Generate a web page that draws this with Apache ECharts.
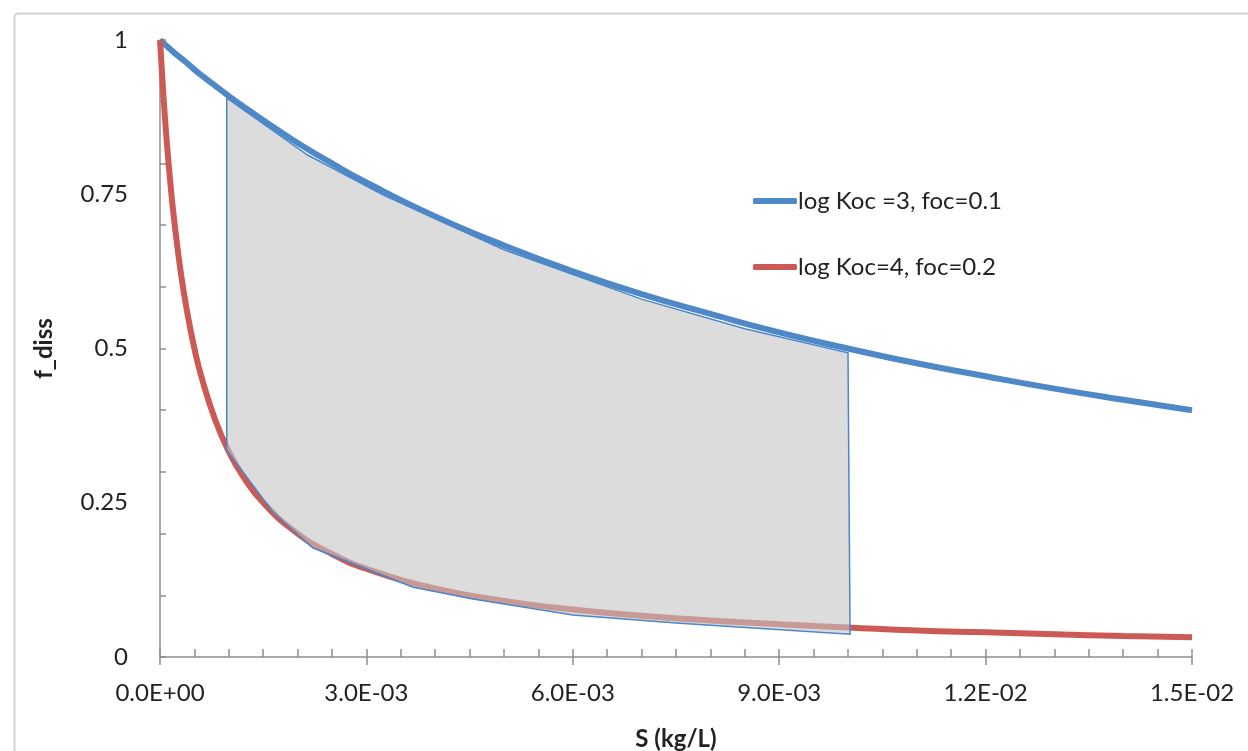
<!DOCTYPE html>
<html>
<head>
<meta charset="utf-8">
<script src="https://cdn.jsdelivr.net/npm/echarts@6/dist/echarts.min.js"></script>
<style>
html,body{margin:0;padding:0;background:#fff;}
#main{width:1248px;height:751px;}
</style>
</head>
<body>
<div id="main"></div>
<script>
// S values (kg/L)
var sVals = [0, 0.00005, 0.0001, 0.00015, 0.0002, 0.0003, 0.0004, 0.0005, 0.0006, 0.0008, 0.001,
  0.0012, 0.0015, 0.002, 0.0025, 0.003, 0.004, 0.005, 0.006, 0.007, 0.008, 0.009, 0.01,
  0.011, 0.012, 0.013, 0.014, 0.015];
// log Koc=3, foc=0.1
var blueVals = [1, 0.995, 0.990, 0.985, 0.980, 0.971, 0.962, 0.952, 0.943, 0.926, 0.909,
  0.893, 0.870, 0.833, 0.800, 0.769, 0.714, 0.667, 0.625, 0.588, 0.556, 0.526, 0.500,
  0.476, 0.455, 0.435, 0.417, 0.400];
// log Koc=4, foc=0.2
var redVals = [1, 0.909, 0.833, 0.769, 0.714, 0.625, 0.556, 0.500, 0.455, 0.385, 0.333,
  0.294, 0.250, 0.200, 0.167, 0.143, 0.111, 0.091, 0.077, 0.067, 0.059, 0.053, 0.048,
  0.043, 0.040, 0.037, 0.034, 0.032];

// shaded region outline
var polyX = [0.00097, 0.00214, 0.00324, 0.005, 0.007, 0.0085, 0.0100,
  0.01003, 0.0075, 0.0060, 0.00455, 0.00368, 0.00222, 0.00164, 0.00097];
var polyY = [0.906, 0.814, 0.749, 0.660, 0.580, 0.532, 0.493,
  0.037, 0.055, 0.068, 0.094, 0.113, 0.177, 0.235, 0.335];

var xTickLabels = ['0.0E+00', '3.0E-03', '6.0E-03', '9.0E-03', '1.2E-02', '1.5E-02'];
var seriesNames = ['log Koc =3, foc=0.1', 'log Koc=4, foc=0.2'];

var chart = echarts.init(document.getElementById('main'));
var font = 'Lato, "Open Sans", sans-serif';
var axisGray = '#8e8e8e';

function pairs(xs, ys){
  var out = [];
  for (var i = 0; i < xs.length; i++) out.push([xs[i], ys[i]]);
  return out;
}

var option = {
  animation: false,
  textStyle: {fontFamily: font},
  graphic: [{
    type: 'rect', left: 12, top: 11, z: -10, silent: true,
    shape: {width: 1300, height: 800, r: 4},
    style: {fill: 'none', stroke: '#d2d2d2', lineWidth: 2}
  }],
  grid: {left: 160, right: 56, top: 40, bottom: 94, outerBoundsMode: 'none', containLabel: false},
  legend: {
    data: seriesNames,
    orient: 'vertical',
    left: 748, top: 184,
    itemGap: 42,
    icon: 'roundRect',
    itemWidth: 44, itemHeight: 6,
    textStyle: {fontFamily: font, fontSize: 24, color: '#222', padding: [0, 0, 0, -4]}
  },
  xAxis: [{
    type: 'value', min: 0, max: 0.015, interval: 0.003,
    name: 'S (kg/L)', nameLocation: 'middle', nameGap: 70,
    nameTextStyle: {fontFamily: font, fontSize: 24, fontWeight: 'bold', color: '#222'},
    axisLine: {lineStyle: {color: axisGray, width: 1.5}},
    axisTick: {show: true, inside: false, length: 8, lineStyle: {color: axisGray, width: 1.5}},
    splitLine: {show: false},
    axisLabel: {
      margin: 24, fontSize: 24, color: '#222', fontFamily: font,
      formatter: function(v){ return xTickLabels[Math.round(v / 0.003)]; }
    }
  }, {
    type: 'value', min: 0, max: 0.015, interval: 0.0005, position: 'bottom',
    axisLine: {show: false},
    axisTick: {show: true, inside: true, length: 8, lineStyle: {color: axisGray, width: 1.5}},
    splitLine: {show: false},
    axisLabel: {show: false}
  }],
  yAxis: [{
    type: 'value', min: 0, max: 1, interval: 0.25,
    name: 'f_diss', nameLocation: 'middle', nameGap: 104, nameRotate: 90,
    nameTextStyle: {fontFamily: font, fontSize: 24, fontWeight: 'bold', color: '#222'},
    axisLine: {show: true, lineStyle: {color: axisGray, width: 1.5}},
    axisTick: {show: false},
    splitLine: {show: false},
    axisLabel: {margin: 32, fontSize: 24, color: '#222', fontFamily: font}
  }, {
    type: 'value', min: 0, max: 1, interval: 0.1, position: 'left',
    axisLine: {show: false},
    axisTick: {show: true, inside: true, length: 6, lineStyle: {color: axisGray, width: 1.5}},
    splitLine: {show: false},
    axisLabel: {show: false}
  }],
  series: [{
    name: seriesNames[0], type: 'line', smooth: true, showSymbol: false, symbol: 'none',
    data: pairs(sVals, blueVals),
    lineStyle: {color: '#4f88c6', width: 6},
    itemStyle: {color: '#4f88c6'},
    z: 2
  }, {
    name: seriesNames[1], type: 'line', smooth: true, showSymbol: false, symbol: 'none',
    data: pairs(sVals, redVals),
    lineStyle: {color: '#cc5a54', width: 6},
    itemStyle: {color: '#cc5a54'},
    z: 2
  }, {
    name: 'range', type: 'custom', silent: true,
    data: [[0, 0]],
    renderItem: function(params, api){
      var pts = [];
      for (var i = 0; i < polyX.length; i++) pts.push(api.coord([polyX[i], polyY[i]]));
      return {
        type: 'polygon',
        shape: {points: pts},
        style: {fill: 'rgba(196,196,196,0.6)', stroke: '#4a86c8', lineWidth: 1.5}
      };
    },
    z: 3
  }]
};

chart.setOption(option);
</script>
</body>
</html>
